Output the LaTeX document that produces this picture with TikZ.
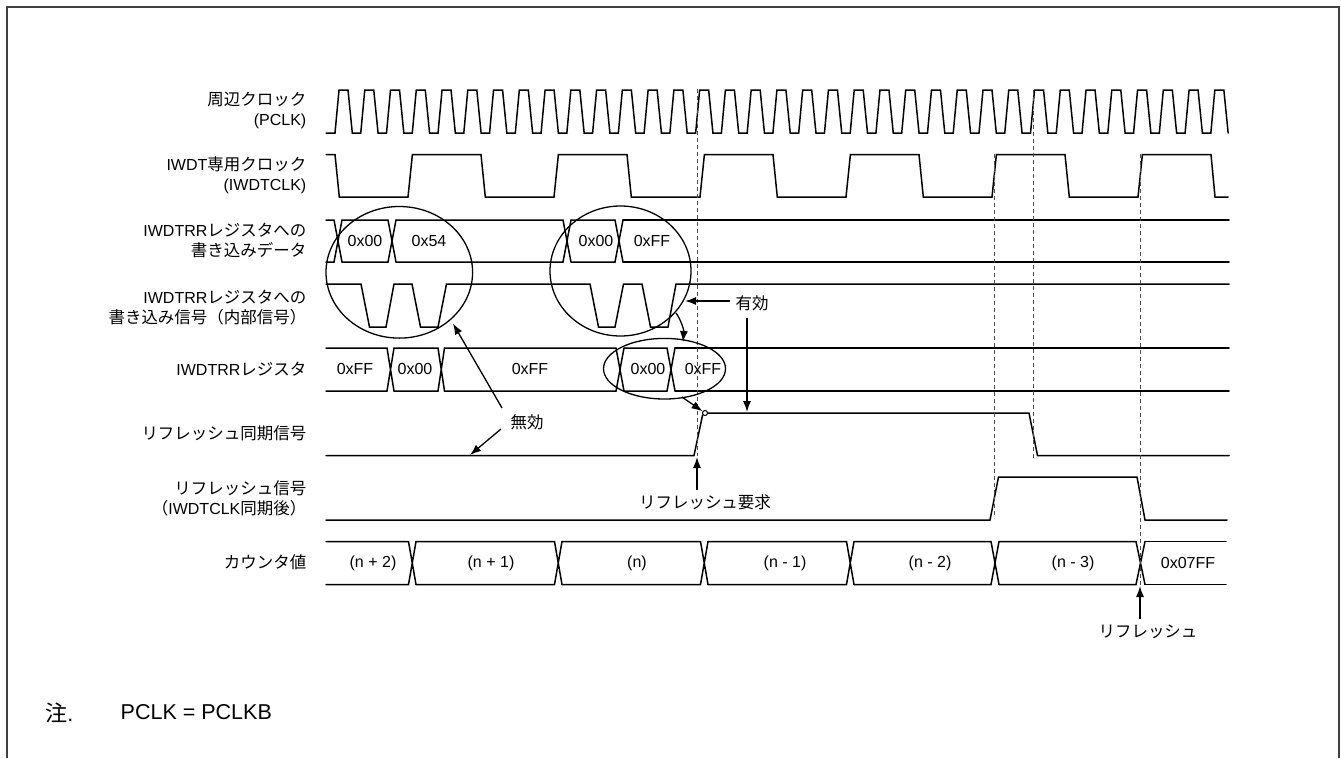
\documentclass[tikz,border=0pt]{standalone}
\usepackage{fontspec}
\setmainfont{Liberation Sans}
\newfontfamily\jpfont[Scale=1.03]{Noto Sans CJK JP}
\usepackage{tikz}
\usetikzlibrary{arrows.meta,shapes.geometric}
\newcommand{\busrow}[6]{\foreach \xa/\xb [remember=\xb as \xp (initially #3)] in {#6}{\draw[sig](\xp,#1)--(\xa,#1)--(\xb,#2)(\xp,#2)--(\xa,#2)--(\xb,#1);}\draw[sig](#4,#1)--(#5,#1)(#4,#2)--(#5,#2);}
\begin{document}
\begin{tikzpicture}[x=1pt,y=-1pt,font=\fontsize{16}{20}\selectfont,
sig/.style={line width=1.5pt,line cap=round,black},guide/.style={line width=0.9pt,dash pattern=on 4pt off 3pt,black!70},
arr/.style={-{Latex[length=11pt,width=8pt]},line width=1.3pt},ring/.style={draw,ellipse,line width=1.3pt,inner sep=0pt,outer sep=0pt},
lbl/.style={anchor=east,align=right,inner sep=0pt},val/.style={inner sep=0pt}]
\useasboundingbox (0,0) rectangle (1341,758);
\draw[line width=1.6pt,black!75](7,758)--(7,7)--(1339,7)--(1339,758);
\node[lbl](pclk) at (306.5,110.5){{\jpfont 周辺クロック}\\(PCLK)};
\node[lbl](iwdtclk) at (306.5,175.5){IWDT{\jpfont 専用クロック}\\(IWDTCLK)};
\node[lbl](wdata) at (306.5,240){IWDTRR{\jpfont レジスタへの}\\{\jpfont 書き込みデータ}};
\node[lbl](wsig) at (306.5,307.5){IWDTRR{\jpfont レジスタへの}\\{\jpfont 書き込み信号（内部信号）}};
\node[lbl](reg) at (306.5,369.5){IWDTRR{\jpfont レジスタ}};
\node[lbl](sync) at (306.5,433){{\jpfont リフレッシュ同期信号}};
\node[lbl](refr) at (306.5,498){{\jpfont リフレッシュ信号}\\{\jpfont （}IWDTCLK{\jpfont 同期後）}};
\node[lbl](cnt) at (306.5,562.5){{\jpfont カウンタ値}};
\draw[sig](326,133) foreach \k in {0,...,34}{--({335+25.76*\k},133)--({339+25.76*\k},90)--({348+25.76*\k},90)--({352.3+25.76*\k},133)};
\draw[sig](326,154.5) foreach \k in {0,...,5}{--({335+146*\k},154.5)--({339.3+146*\k},197)--({408+146*\k},197)--({412.4+146*\k},154.5)}--(1211,154.5)--(1215,197)--(1228,197);
\draw[sig](326,284)--(361,284)--(369.5,327)--(386,327)--(394,284)--(412,284)--(420.5,327)--(438,327)--(446.5,284)--(590,284)--(598.5,327)--(615,327)--(623.5,284)--(642,284)--(650.5,327)--(668,327)--(676,284)--(1229,284);
\busrow{220}{262}{326}{623}{1229}{334/342,388/396,563/571,615/623}
\busrow{348}{391}{326}{675}{1229}{387/394,438/444.5,616/624,667/675}
\draw[sig](326,455.5)--(694,455.5)--(702.6,415);
\node[draw,circle,fill=white,line width=1pt,minimum size=5pt,inner sep=0pt](knee) at (705,413){};
\draw[sig](knee)--(1029,413)--(1037.5,455.5)--(1229,455.5);
\draw[sig](326,520)--(990,520)--(998.5,477)--(1137,477)--(1145,520)--(1227,520);
\busrow{541.5}{584.5}{326}{1145}{1226}{408.5/416,554.5/562,700.5/708,846.5/854,991/999,1136/1145}
\draw[guide](697,89)--(697,456);\draw[guide](1033,90)--(1033,460);\draw[guide](994,154)--(994,518);\draw[guide](1140,154)--(1140,586);
\node[val](a0) at (365,240.5){0x00};\node[val](a1) at (429,240.5){0x54};\node[val](a2) at (596,240.5){0x00};\node[val](a3) at (652,240.5){0xFF};
\node[val](b0) at (355,368.5){0xFF};\node[val](b1) at (415,368.5){0x00};\node[val](b2) at (530,368.5){0xFF};\node[val](b3) at (648,368.5){0x00};\node[val](b4) at (703,368.5){0xFF};
\node[val](c0) at (373,563){(n + 2)};\node[val](c1) at (491,563){(n + 1)};\node[val](c2) at (637,563){(n)};\node[val](c3) at (785,563){(n - 1)};\node[val](c4) at (930,563){(n - 2)};\node[val](c5) at (1073,563){(n - 3)};\node[val](c6) at (1188,563){0x07FF};
\node[ring,minimum width=146.6pt,minimum height=131.6pt](ringa) at (399.3,272.3){};
\node[ring,minimum width=141pt,minimum height=130pt](ringb) at (620.5,271){};
\node[ring,minimum width=122pt,minimum height=60.6pt](ringc) at (664.5,368.7){};
\node[val](inval) at (527,422){\jpfont 無効};
\node[val](valid) at (752,303){\jpfont 有効};
\node[val](reqlbl) at (705,502){\jpfont リフレッシュ要求};
\node[val](reflbl) at (1148,632){\jpfont リフレッシュ};
\node[val,anchor=west,font=\fontsize{21.5}{24}\selectfont](note) at (45,712.5){{\jpfont 注}.};
\node[val,anchor=west,font=\fontsize{21.5}{24}\selectfont](notetxt) at (120.5,712.5){PCLK = PCLKB};
\coordinate (ia) at (502,408);\coordinate (ib) at (501,429);\coordinate (ta) at (453,323.5);\coordinate (tb) at (470,455);
\coordinate (va) at (730,301);\coordinate (ta2) at (685,301);\coordinate (vb) at (747,318);\coordinate (tb2) at (747,412);
\coordinate (ca) at (676,313);\coordinate (cb) at (683,342);\coordinate (da) at (682,397);
\coordinate (ra) at (697,490);\coordinate (rb) at (697,457);\coordinate (sa) at (1140,619);\coordinate (sb) at (1140,586);
\draw[arr](ia)--(ta);\draw[arr](ib)--(tb);\draw[arr](va)--(ta2);\draw[arr](vb)--(tb2);
\draw[arr](ca) .. controls (681,320) and (684,330) .. (cb);\draw[arr](da)--(knee);
\draw[arr](ra)--(rb);\draw[arr](sa)--(sb);
\end{tikzpicture}
\end{document}
